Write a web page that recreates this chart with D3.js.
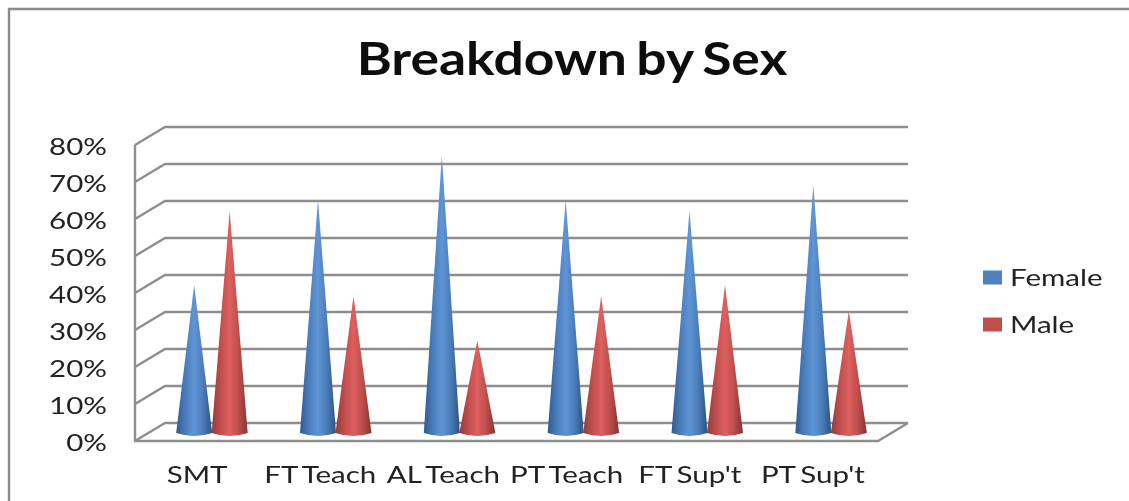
<!DOCTYPE html>
<html>

<head>
    <meta charset="utf-8">
    <style>
        html, body {
            margin: 0;
            padding: 0;
            background: #fff;
            overflow: hidden;
        }

        svg {
            display: block;
        }

        .title {
            font-family: Lato, sans-serif;
            font-size: 45px;
            font-weight: 700;
            word-spacing: -3px;
            fill: #111;
        }

        .y .domain, .y .tick line {
            display: none;
        }

        .y .tick text, .cat, .legend-label {
            font-family: Lato, sans-serif;
            font-size: 24px;
            fill: #222;
        }

        .cat {
            word-spacing: -2px;
        }

        .grid {
            stroke: #8e8e8e;
            stroke-width: 2.4;
            fill: none;
        }
    </style>
</head>

<body>
    <svg width="1129" height="501"></svg>

    <script src="https://d3js.org/d3.v7.min.js"></script>
    <script>
        const categories = ["SMT", "FT Teach", "AL Teach", "PT Teach", "FT Sup't", "PT Sup't"];
        const seriesNames = ["Female", "Male"];
        const female = [40, 63, 75, 63, 60, 67];
        const male = [60, 37, 25, 37, 40, 33];
        const tickValues = [0, 10, 20, 30, 40, 50, 60, 70, 80];

        const svg = d3.select("svg");
        const defs = svg.append("defs");

        // the source is a scaled up screenshot, so everything is a bit soft
        defs.append("filter").attr("id", "soft")
            .append("feGaussianBlur").attr("stdDeviation", 0.6);

        const shades = [
            { id: "coneFemale", stops: ["#2f5a8e", "#4b7dba", "#5f95d6", "#4a7cb8", "#2b5284"] },
            { id: "coneMale", stops: ["#943a3a", "#c04e4e", "#de5f5f", "#bd4e4c", "#873333"] }
        ];
        shades.forEach(s => {
            const g = defs.append("linearGradient").attr("id", s.id);
            [0, 25, 50, 75, 100].forEach((o, i) => {
                g.append("stop").attr("offset", o + "%").attr("stop-color", s.stops[i]);
            });
        });

        const legendColor = d3.scaleOrdinal().domain(seriesNames).range(["#4f81bd", "#c0504d"]);
        const coneFill = d3.scaleOrdinal().domain(seriesNames).range(["url(#coneFemale)", "url(#coneMale)"]);

        // chart box: back wall is shifted up/right of the front edge
        const front = { left: 135, right: 878, bottom: 441 };
        const depth = { x: 30, y: 18 };
        const coneDrop = 8;
        const coneR = 18;
        const coneRy = 3;
        const stretch = 1.23; // the screenshot was stretched sideways

        const y = d3.scaleLinear().domain([0, 80]).range([front.bottom, front.bottom - 296]);

        const xCat = d3.scaleBand().domain(categories).range([135.5, 874.5]);
        const xCone = d3.scaleBand().domain(categories)
            .range([front.left + depth.x / 2, front.right + depth.x / 2]);
        const xSeries = d3.scaleBand().domain(seriesNames).range([-35.5, 35.5]);

        const root = svg.append("g").attr("filter", "url(#soft)");

        // outer frame, cut off by the crop on the right and bottom
        root.append("path")
            .attr("d", "M9,501V9H1129")
            .attr("fill", "none")
            .attr("stroke", "#8a8a8a")
            .attr("stroke-width", 2.4);

        root.append("text")
            .attr("class", "title")
            .attr("transform", "translate(572, 75) scale(1.187, 1)")
            .attr("text-anchor", "middle")
            .text("Breakdown by Sex");

        // grid on the back wall and side wall
        const grid = root.append("g").attr("class", "grid");
        tickValues.forEach(t => {
            const yy = y(t);
            const line = d3.path();
            line.moveTo(front.left, yy);
            line.lineTo(front.left + depth.x, yy - depth.y);
            line.lineTo(front.right + depth.x, yy - depth.y);
            grid.append("path").attr("d", line.toString());
        });
        const walls = d3.path();
        walls.moveTo(front.left, y(80));
        walls.lineTo(front.left, y(0));
        walls.lineTo(front.right, y(0));
        walls.lineTo(front.right + depth.x, y(0) - depth.y);
        grid.append("path").attr("d", walls.toString());

        root.append("g")
            .attr("class", "y")
            .attr("transform", `translate(${front.left}, 0)`)
            .call(d3.axisLeft(y)
                .tickValues(tickValues)
                .tickSize(0)
                .tickPadding(0)
                .tickFormat(d => d + "%"))
            .call(g => g.selectAll("text")
                .attr("x", null)
                .attr("dy", null)
                .attr("y", null)
                .attr("transform", `translate(-28, 9) scale(${stretch}, 1)`));

        // cones
        function cone(cat, name, value) {
            const cx = xCone(cat) + xCone.bandwidth() / 2 + xSeries(name) + xSeries.bandwidth() / 2;
            const base = y(0) - coneDrop;
            const tip = base - (y(0) - y(value));
            const p = d3.path();
            p.moveTo(cx - coneR, base);
            p.lineTo(cx, tip);
            p.lineTo(cx + coneR, base);
            p.quadraticCurveTo(cx, base + coneRy * 2, cx - coneR, base);
            p.closePath();
            return p.toString();
        }

        const rows = categories.flatMap((c, i) => [
            { cat: c, name: "Female", value: female[i] },
            { cat: c, name: "Male", value: male[i] }
        ]);

        root.append("g")
            .selectAll("path")
            .data(rows)
            .join("path")
            .attr("d", d => cone(d.cat, d.name, d.value))
            .attr("fill", d => coneFill(d.name));

        root.append("g")
            .selectAll("text")
            .data(categories)
            .join("text")
            .attr("class", "cat")
            .attr("transform", d => `translate(${xCat(d) + xCat.bandwidth() / 2}, 483) scale(${stretch}, 1)`)
            .attr("text-anchor", "middle")
            .text(d => d);

        // legend
        const legendY = d3.scalePoint().domain(seriesNames).range([277.5, 324.5]);
        const legend = root.append("g")
            .selectAll("g")
            .data(seriesNames)
            .join("g")
            .attr("transform", d => `translate(983, ${legendY(d)})`);

        legend.append("rect")
            .attr("y", -7)
            .attr("width", 19)
            .attr("height", 14)
            .attr("fill", d => legendColor(d));

        legend.append("text")
            .attr("class", "legend-label")
            .attr("transform", `translate(27, 8) scale(${stretch}, 1)`)
            .text(d => d);
    </script>
</body>

</html>
